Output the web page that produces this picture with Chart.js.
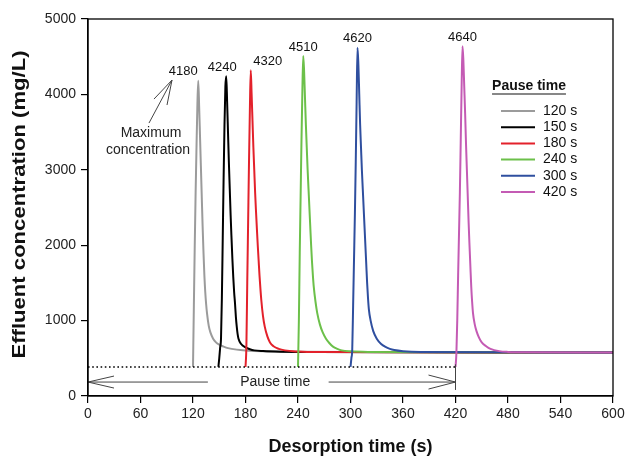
<!DOCTYPE html>
<html>
<head>
<meta charset="utf-8">
<script src="https://cdn.jsdelivr.net/npm/chart.js@4/dist/chart.umd.min.js"></script>
<style>
  html,body{margin:0;padding:0;background:#fff;}
  #wrap{width:625px;height:462px;}
</style>
</head>
<body>
<div id="wrap"><canvas id="c" width="625" height="462"></canvas></div>
<script>
// pause-time series: desorption time (s) and effluent concentration (mg/L)
const t120=[120,121,122,123,124,125,126,127,128,129,130,131,132,133,134,135,136,138,140,143,146,150,155,160,170,180,200,240,300,600];
const c120=[385,1200,2000,2700,3300,3850,4180,3850,3450,3050,2650,2250,1900,1600,1380,1220,1100,930,840,760,715,680,655,635,615,605,595,588,582,578];

const t150=[149,150,151,152,153,154,155,156,157,158,159,160,161,162,163,164,165,166,167,168,169,170,171,172,175,180,185,190,200,220,260,600];
const c150=[385,500,640,760,1300,2100,2900,3600,4100,4240,3900,3500,3100,2750,2400,2100,1820,1580,1380,1230,1050,920,820,760,690,645,620,605,596,588,582,578];

const t180=[180,181,182,183,184,185,186,187,188,189,190,191,192,193,194,195,196,197,198,200,202,205,208,212,218,225,240,260,600];
const c180=[385,650,1500,2300,3100,3800,4320,4000,3650,3300,3000,2700,2450,2220,2000,1800,1600,1430,1280,1060,920,790,710,660,625,605,590,582,578];

const t240=[240,241,242,243,244,245,246,247,248,249,250,251,252,253,254,255,256,257,258,260,262,265,268,272,276,280,285,290,300,320,600];
const c240=[385,1000,1900,2650,3400,4050,4510,4300,3950,3600,3300,3000,2750,2500,2250,2000,1780,1600,1450,1250,1100,950,850,760,700,655,625,605,592,585,578];

const t300=[300,301,302,303,304,305,306,307,308,309,310,311,312,313,314,315,316,317,318,319,320,321,323,326,330,335,340,345,350,360,380,600];
const c300=[385,500,620,1200,1800,2400,3100,3900,4620,4400,4000,3600,3300,3000,2750,2500,2250,2000,1750,1500,1300,1150,1000,860,760,690,650,625,610,595,585,578];

const t420=[420,421,422,423,424,425,426,427,428,429,430,431,432,433,434,435,436,437,438,439,440,442,444,447,450,455,460,470,480,500,600];
const c420=[385,560,1000,1600,2150,2700,3400,4100,4640,4450,4100,3750,3350,3000,2650,2300,2000,1720,1450,1250,1100,950,860,770,710,660,625,595,585,580,578];

const seriesLabels=['120 s','150 s','180 s','240 s','300 s','420 s'];
const seriesTimes=[t120,t150,t180,t240,t300,t420];
const seriesConc=[c120,c150,c180,c240,c300,c420];
const seriesColors=['#9b9b9b','#000000','#e3212b','#6cc04a','#2f4f9f','#c45bb4'];

const xTicks=[0,60,120,180,240,300,360,420,480,540,600];
const yTicks=[0,1000,2000,3000,4000,5000];

const pauseEnd=420, startLevel=385;

const FONT='"Liberation Sans", Arial, sans-serif';

function seg(ctx,x1,y1,x2,y2){ctx.beginPath();ctx.moveTo(x1,y1);ctx.lineTo(x2,y2);ctx.stroke();}

const annot={id:'annot',afterDatasetsDraw(ch){
  const {ctx,chartArea:a,scales:{x,y}}=ch;
  const X=v=>x.getPixelForValue(v), Y=v=>y.getPixelForValue(v);
  ctx.save();

  // dotted start level up to the end of the longest pause
  ctx.strokeStyle='#000';ctx.lineWidth=1.6;ctx.setLineDash([1.6,2.6]);
  seg(ctx,X(0),Y(startLevel),X(pauseEnd),Y(startLevel));
  ctx.setLineDash([]);

  // pause time double arrow
  const ay=Y(185);
  ctx.strokeStyle='#444';ctx.lineWidth=1;
  seg(ctx,X(0),ay,X(137),ay);
  seg(ctx,X(275),ay,X(pauseEnd),ay);
  seg(ctx,X(0),ay,X(0)+26,ay-6);seg(ctx,X(0),ay,X(0)+26,ay+6);
  seg(ctx,X(pauseEnd),ay,X(pauseEnd)-27,ay-7);seg(ctx,X(pauseEnd),ay,X(pauseEnd)-27,ay+7);
  seg(ctx,X(pauseEnd),Y(420),X(pauseEnd),Y(80));
  ctx.fillStyle='#222';ctx.font='14px '+FONT;ctx.textAlign='center';ctx.textBaseline='middle';
  ctx.fillText('Pause time',X(214),ay);

  // maximum concentration note
  ctx.fillText('Maximum',X(72),Y(3487));
  ctx.fillText('concentration',X(68.6),Y(3262));
  const tx=X(96),ty=Y(4190);
  seg(ctx,tx,ty,X(69.7),Y(3620));
  seg(ctx,tx,ty,X(75.4),Y(3938));
  seg(ctx,tx,ty,X(90.3),Y(3859));

  // peak labels
  const dx=[-15,-4,17,0,0,0];
  ctx.font='13px '+FONT;ctx.fillStyle='#111';
  seriesConc.forEach((cs,i)=>{
    const k=cs.indexOf(Math.max(...cs));
    ctx.fillText(String(cs[k]),X(seriesTimes[i][k])+dx[i],Y(cs[k])-9);
  });

  // legend
  const lx=a.right-84, ly=a.top+67;
  ctx.font='bold 14px '+FONT;ctx.fillStyle='#111';
  ctx.fillText('Pause time',lx,ly);
  const w=ctx.measureText('Pause time').width;
  ctx.strokeStyle='#111';ctx.lineWidth=1.2;
  seg(ctx,lx-w/2,ly+8,lx+w/2,ly+8);
  ctx.font='14px '+FONT;ctx.textAlign='left';
  seriesLabels.forEach((l,i)=>{
    const yy=ly+25+i*16.2;
    ctx.strokeStyle=seriesColors[i];ctx.lineWidth=2;
    seg(ctx,a.right-112,yy,a.right-78,yy);
    ctx.fillText(l,a.right-70,yy);
  });

  // y axis title, stretched along its length like the original figure
  ctx.save();
  ctx.font='bold 18px '+FONT;ctx.fillStyle='#111';ctx.textAlign='center';
  const yt='Effluent concentration (mg/L)';
  ctx.translate(20,(a.top+a.bottom)/2-3);ctx.rotate(-Math.PI/2);
  ctx.scale(308/ctx.measureText(yt).width,1);
  ctx.fillText(yt,0,0);
  ctx.restore();

  // frame
  ctx.strokeStyle='#000';ctx.lineWidth=1.3;
  ctx.strokeRect(a.left,a.top,a.width,a.height);
  ctx.restore();
}};

new Chart(document.getElementById('c'),{
  type:'line',
  data:{datasets:seriesLabels.map((l,i)=>({
    label:l,
    data:seriesTimes[i].map((t,k)=>({x:t,y:seriesConc[i][k]})),
    borderColor:seriesColors[i],borderWidth:2,pointRadius:0,
    cubicInterpolationMode:'monotone',order:5-i
  }))},
  options:{
    responsive:false,animation:false,
    layout:{padding:{top:19,right:12,left:0,bottom:0}},
    plugins:{legend:{display:false},tooltip:{enabled:false}},
    scales:{
      x:{type:'linear',min:0,max:600,
        afterBuildTicks:s=>{s.ticks=xTicks.map(v=>({value:v}));},
        afterFit:s=>{s.height=66;s.paddingLeft=0;s.paddingRight=0;},
        ticks:{font:{size:14,family:FONT},color:'#222',padding:3,maxRotation:0,callback:v=>String(v)},
        grid:{drawOnChartArea:false,drawTicks:true,tickLength:7,color:'#000',lineWidth:1.2},
        border:{display:true,color:'#000',width:1.3},
        title:{display:true,text:'Desorption time (s)',color:'#111',
          font:{size:18,weight:'bold',family:FONT},padding:{top:0,bottom:4}}},
      y:{type:'linear',min:0,max:5000,
        afterBuildTicks:s=>{s.ticks=yTicks.map(v=>({value:v}));},
        afterFit:s=>{s.width=88;s.paddingTop=0;s.paddingBottom=0;},
        ticks:{font:{size:14,family:FONT},color:'#222',padding:5,callback:v=>String(v)},
        grid:{drawOnChartArea:false,drawTicks:true,tickLength:7,color:'#000',lineWidth:1.2},
        border:{display:true,color:'#000',width:1.3},
        title:{display:false}}
    }
  },
  plugins:[annot]
});
</script>
</body>
</html>
